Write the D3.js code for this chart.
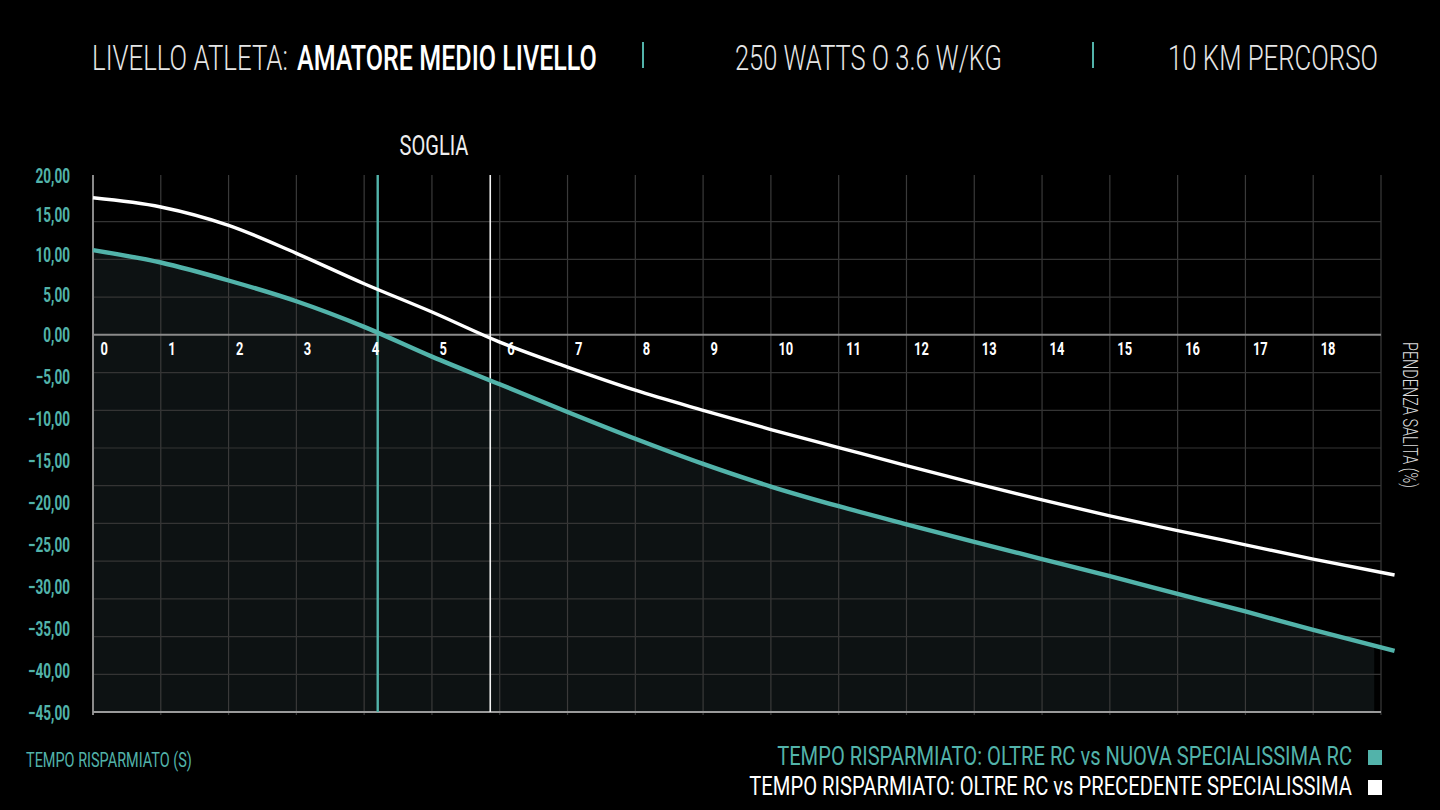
<!DOCTYPE html>
<html>
<head>
<meta charset="utf-8">
<script src="https://cdn.jsdelivr.net/npm/d3@7"></script>
<style>
  html, body { margin: 0; padding: 0; background: #000; }
  svg { display: block; font-family: Roboto, "Open Sans", sans-serif; }
</style>
</head>
<body>
<script>
// values
var pendenza = [0, 1, 2, 3, 4, 5, 6, 7, 8, 9, 10, 11, 12, 13, 14, 15, 16, 17, 18, 19.2];
var nuovaSpecialissima = [10.6, 9.05, 6.8, 4.2, 1.0, -2.6, -5.9, -9.2, -12.4, -15.4, -18.1, -20.45, -22.6, -24.7, -26.75, -28.8, -30.9, -33.0, -35.2, -37.7];
var precedenteSpecialissima = [17.15, 16.0, 13.7, 10.2, 6.4, 2.86, -0.86, -3.84, -6.6, -9.0, -11.3, -13.45, -15.6, -17.7, -19.7, -21.6, -23.35, -25.05, -26.75, -28.65];
var sogliaNuova = 4.2;
var sogliaPrecedente = 5.86;
var xTickLabels = d3.range(0, 19);
var yTickValues = d3.range(-45, 21, 5);
var gridRows = d3.range(0, 14);
var headerParts = ["LIVELLO ATLETA:", "AMATORE MEDIO LIVELLO", "250 WATTS O 3.6 W/KG", "10 KM PERCORSO"];
var legendLabels = ["TEMPO RISPARMIATO: OLTRE RC vs NUOVA SPECIALISSIMA RC", "TEMPO RISPARMIATO: OLTRE RC vs PRECEDENTE SPECIALISSIMA"];

var width = 1440;
var height = 810;
var teal = "#52b3aa";
var pLeft = 93, pRight = 1381, pTop = 175, pBottom = 712;

var svg = d3.select("body").append("svg")
  .attr("width", width)
  .attr("height", height);

svg.append("rect").attr("width", width).attr("height", height).attr("fill", "#000");

// the background grid of the picture runs on its own even step (rows of 37.7px),
// the value axis is stretched a bit differently above and below zero
var gridY = d3.scaleLinear().domain([0, 13]).range([pBottom, 221.7]);
var x = d3.scaleLinear().domain([0, 19]).range([pLeft, pRight]);
var y = d3.scaleLinear().domain([-45, 0, 20]).range([pBottom, gridY(10), pTop]);

// squeeze a text horizontally so it fits a given width (condensed look)
function fit(sel, w) {
  var len = sel.node().getComputedTextLength();
  var t = sel.attr("data-t");
  sel.attr("transform", t + " scale(" + (w / len) + ",1)");
}
function place(sel, tx, ty) {
  sel.attr("data-t", "translate(" + tx + "," + ty + ")")
    .attr("transform", "translate(" + tx + "," + ty + ")");
  return sel;
}

// area under the teal line
var clip = svg.append("clipPath").attr("id", "areaClip");
clip.append("rect").attr("x", pLeft).attr("y", pTop).attr("width", x(18.9) - pLeft).attr("height", pBottom - pTop);

var rows = pendenza.map(function (p, i) {
  return { p: p, a: nuovaSpecialissima[i], b: precedenteSpecialissima[i] };
});

svg.append("path")
  .datum(rows)
  .attr("clip-path", "url(#areaClip)")
  .attr("fill", "#0d1213")
  .attr("d", d3.area()
    .curve(d3.curveMonotoneX)
    .x(function (d) { return x(d.p); })
    .y0(y(-45))
    .y1(function (d) { return y(d.a); }));

// grid
var grid = svg.append("g");
grid.selectAll(".vg")
  .data(d3.range(1, 20))
  .enter().append("line")
  .attr("x1", function (d) { return x(d); })
  .attr("x2", function (d) { return x(d); })
  .attr("y1", pTop)
  .attr("y2", pBottom + 3)
  .attr("stroke", "#3a3a3a")
  .attr("stroke-width", 1.2);

grid.selectAll(".hg")
  .data(gridRows.filter(function (r) { return r !== 0 && r !== 10; }))
  .enter().append("line")
  .attr("x1", pLeft)
  .attr("x2", pRight)
  .attr("y1", function (d) { return gridY(d); })
  .attr("y2", function (d) { return gridY(d); })
  .attr("stroke", "#343434")
  .attr("stroke-width", 1.2);

// axes lines
grid.append("line").attr("x1", pLeft).attr("x2", pLeft).attr("y1", pTop).attr("y2", pBottom + 3)
  .attr("stroke", "#8a8a8a").attr("stroke-width", 2);
grid.append("line").attr("x1", pLeft).attr("x2", pRight).attr("y1", y(0)).attr("y2", y(0))
  .attr("stroke", "#8a8a8a").attr("stroke-width", 2);
grid.append("line").attr("x1", pLeft).attr("x2", pRight).attr("y1", y(-45)).attr("y2", y(-45))
  .attr("stroke", "#9a9a9a").attr("stroke-width", 2);

// threshold lines
svg.append("line")
  .attr("x1", x(sogliaNuova)).attr("x2", x(sogliaNuova))
  .attr("y1", pTop).attr("y2", pBottom)
  .attr("stroke", teal).attr("stroke-width", 2.4);
svg.append("line")
  .attr("x1", x(sogliaPrecedente)).attr("x2", x(sogliaPrecedente))
  .attr("y1", pTop).attr("y2", pBottom)
  .attr("stroke", "#f2f2f2").attr("stroke-width", 1.6);

var soglia = place(svg.append("text"), (x(sogliaNuova) + x(sogliaPrecedente)) / 2, 155)
  .attr("text-anchor", "middle")
  .attr("fill", "#eee")
  .style("font-size", "27px")
  .style("font-weight", 400)
  .text("SOGLIA");
fit(soglia, 69);

// lines
var lineA = d3.line().curve(d3.curveMonotoneX)
  .x(function (d) { return x(d.p); })
  .y(function (d) { return y(d.a); });
var lineB = d3.line().curve(d3.curveMonotoneX)
  .x(function (d) { return x(d.p); })
  .y(function (d) { return y(d.b); });

svg.append("path").datum(rows).attr("d", lineB)
  .attr("fill", "none").attr("stroke", "#fff").attr("stroke-width", 3.4);
svg.append("path").datum(rows).attr("d", lineA)
  .attr("fill", "none").attr("stroke", teal).attr("stroke-width", 4.4);

// y axis labels
var locale = d3.formatLocale({ decimal: ",", thousands: ".", grouping: [3], currency: ["", "€"] });
var fmt = locale.format(".2f");

var yAxis = svg.append("g")
  .attr("transform", "translate(" + 70 + ",0)")
  .call(d3.axisLeft(y).tickValues(yTickValues).tickFormat(fmt).tickSize(0).tickPadding(0));
yAxis.select(".domain").remove();
yAxis.selectAll("text")
  .attr("x", 0).attr("dy", null).attr("y", 7)
  .attr("fill", teal)
  .style("font-size", "20px")
  .style("font-weight", 700)
  .style("font-family", "Roboto, sans-serif")
  .attr("transform", "scale(0.68,1)");

// x axis labels
var xAxis = svg.append("g")
  .attr("transform", "translate(0," + y(0) + ")")
  .call(d3.axisBottom(x).tickValues(xTickLabels).tickFormat(d3.format("d")).tickSize(0));
xAxis.select(".domain").remove();
xAxis.selectAll("text")
  .attr("text-anchor", "start")
  .attr("x", 0).attr("y", 0).attr("dy", null)
  .attr("fill", "#fff")
  .style("font-size", "19px")
  .style("font-weight", 700)
  .style("font-family", "Roboto, sans-serif")
  .attr("transform", "translate(7,20) scale(0.68,1)");

// right axis title
var rt = svg.append("text")
  .attr("transform", "translate(1403,342) rotate(90)")
  .attr("fill", "#ddd")
  .style("font-size", "21px")
  .style("font-weight", 300)
  .text("PENDENZA SALITA (%)");
var rlen = rt.node().getComputedTextLength();
rt.attr("transform", "translate(1403,342) rotate(90) scale(" + (146 / rlen) + ",1)");

// bottom left title
var bl = place(svg.append("text"), 26, 767)
  .attr("fill", teal)
  .style("font-size", "21px")
  .style("font-weight", 400)
  .text("TEMPO RISPARMIATO (S)");
fit(bl, 166);

// header
var h0 = place(svg.append("text"), 92, 70).attr("fill", "#e6e6e6")
  .style("font-size", "36px").style("font-weight", 300).text(headerParts[0]);
fit(h0, 196);
var h1 = place(svg.append("text"), 297, 70).attr("fill", "#fff")
  .style("font-size", "36px").style("font-weight", 500).text(headerParts[1]);
fit(h1, 300);
var h2 = place(svg.append("text"), 735, 70).attr("fill", "#e6e6e6")
  .style("font-size", "36px").style("font-weight", 300).text(headerParts[2]);
fit(h2, 267);
var h3 = place(svg.append("text"), 1168, 70).attr("fill", "#e6e6e6")
  .style("font-size", "36px").style("font-weight", 300).text(headerParts[3]);
fit(h3, 210);

svg.selectAll(".sep")
  .data([643, 1093])
  .enter().append("line")
  .attr("x1", function (d) { return d; })
  .attr("x2", function (d) { return d; })
  .attr("y1", 42).attr("y2", 68)
  .attr("stroke", teal).attr("stroke-width", 2);

// legend
var legendColors = [teal, "#fff"];
var legendWidths = [575, 603];
legendLabels.forEach(function (lbl, i) {
  var yy = 765 + i * 30;
  var t = place(svg.append("text"), 1352, yy)
    .attr("text-anchor", "end")
    .attr("fill", legendColors[i])
    .style("font-size", "26px")
    .style("font-weight", 400)
    .text(lbl);
  fit(t, legendWidths[i]);
  svg.append("rect")
    .attr("x", 1368).attr("y", yy - 15)
    .attr("width", 14).attr("height", 15)
    .attr("fill", legendColors[i]);
});
</script>
</body>
</html>
